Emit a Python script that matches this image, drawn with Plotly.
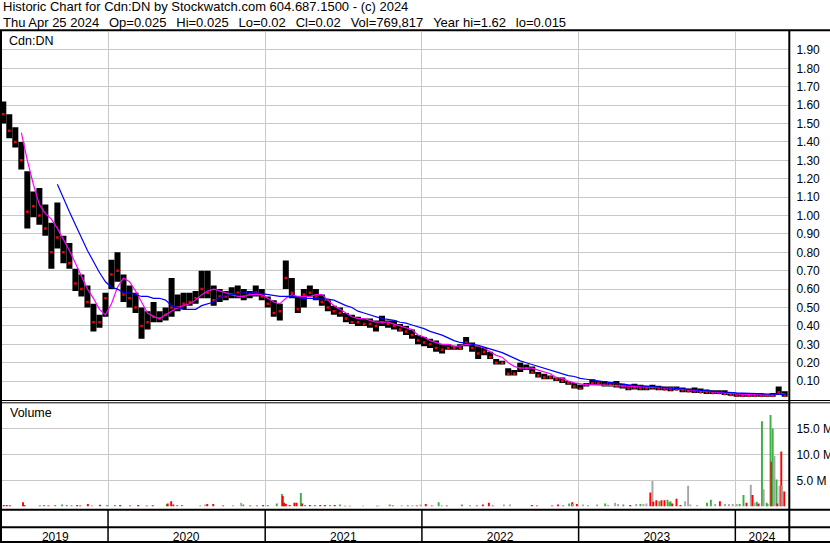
import plotly.graph_objects as go
import pandas as pd

# ---------------- data ----------------
price_dates = pd.date_range("2019-05-02", periods=131, freq="14D")

price_high = [
    1.62, 1.55, 1.48, 1.40, 1.24, 1.13, 1.15, 1.06, 0.96, 1.07,
    0.89, 0.85, 0.71, 0.68, 0.62, 0.52, 0.46, 0.58, 0.76, 0.80,
    0.68, 0.62, 0.58, 0.50, 0.48, 0.53, 0.48, 0.50, 0.66, 0.57,
    0.58, 0.58, 0.59, 0.70, 0.70, 0.62, 0.60, 0.59, 0.61, 0.62,
    0.60, 0.59, 0.62, 0.60, 0.56, 0.54, 0.52, 0.755, 0.66, 0.56,
    0.60, 0.62, 0.60, 0.57, 0.54, 0.51, 0.50, 0.47, 0.46, 0.45,
    0.44, 0.44, 0.43, 0.455, 0.43, 0.43, 0.41, 0.40, 0.38, 0.35,
    0.34, 0.33, 0.32, 0.30, 0.30, 0.29, 0.30, 0.34, 0.31, 0.29,
    0.28, 0.26, 0.22, 0.21, 0.17, 0.16, 0.20, 0.19, 0.18, 0.15,
    0.14, 0.13, 0.12, 0.12, 0.10, 0.09, 0.08, 0.09, 0.11, 0.10,
    0.10, 0.095, 0.10, 0.085, 0.08, 0.085, 0.08, 0.075, 0.08, 0.075,
    0.07, 0.07, 0.07, 0.065, 0.06, 0.065, 0.06, 0.055, 0.05, 0.05,
    0.05, 0.04, 0.035, 0.035, 0.035, 0.03, 0.035, 0.03, 0.035, 0.07,
    0.045,
]
price_low = [
    1.50, 1.42, 1.37, 1.25, 0.93, 0.99, 0.95, 0.89, 0.71, 0.82,
    0.74, 0.71, 0.59, 0.56, 0.50, 0.37, 0.39, 0.45, 0.60, 0.64,
    0.53, 0.50, 0.47, 0.33, 0.38, 0.42, 0.42, 0.43, 0.45, 0.48,
    0.49, 0.51, 0.52, 0.55, 0.55, 0.51, 0.53, 0.54, 0.55, 0.55,
    0.54, 0.55, 0.56, 0.54, 0.50, 0.45, 0.43, 0.60, 0.55, 0.47,
    0.50, 0.56, 0.54, 0.51, 0.48, 0.46, 0.45, 0.42, 0.41, 0.40,
    0.40, 0.39, 0.37, 0.40, 0.39, 0.38, 0.37, 0.35, 0.33, 0.30,
    0.29, 0.28, 0.26, 0.25, 0.27, 0.27, 0.27, 0.29, 0.26, 0.22,
    0.24, 0.22, 0.19, 0.19, 0.13, 0.13, 0.15, 0.16, 0.14, 0.12,
    0.11, 0.11, 0.10, 0.09, 0.08, 0.06, 0.055, 0.07, 0.08, 0.08,
    0.07, 0.07, 0.065, 0.06, 0.05, 0.055, 0.05, 0.05, 0.055, 0.05,
    0.05, 0.045, 0.05, 0.04, 0.04, 0.035, 0.035, 0.03, 0.03, 0.03,
    0.025, 0.02, 0.015, 0.015, 0.015, 0.015, 0.015, 0.015, 0.015, 0.03,
    0.015,
]
price_close = [
    1.55, 1.46, 1.40, 1.30, 1.02, 1.05, 1.00, 0.93, 0.80, 0.88,
    0.80, 0.74, 0.63, 0.60, 0.53, 0.42, 0.42, 0.55, 0.68, 0.70,
    0.57, 0.55, 0.50, 0.40, 0.42, 0.45, 0.44, 0.46, 0.50, 0.50,
    0.52, 0.53, 0.55, 0.60, 0.58, 0.54, 0.56, 0.56, 0.57, 0.58,
    0.56, 0.57, 0.58, 0.56, 0.52, 0.47, 0.48, 0.66, 0.58, 0.49,
    0.57, 0.58, 0.56, 0.53, 0.50, 0.48, 0.47, 0.44, 0.42, 0.42,
    0.41, 0.41, 0.40, 0.42, 0.41, 0.40, 0.38, 0.37, 0.35, 0.32,
    0.31, 0.30, 0.28, 0.27, 0.28, 0.28, 0.28, 0.31, 0.28, 0.25,
    0.26, 0.23, 0.20, 0.20, 0.14, 0.14, 0.17, 0.17, 0.15, 0.13,
    0.12, 0.12, 0.11, 0.10, 0.09, 0.07, 0.06, 0.08, 0.09, 0.09,
    0.08, 0.08, 0.075, 0.07, 0.06, 0.065, 0.06, 0.06, 0.065, 0.06,
    0.055, 0.055, 0.055, 0.05, 0.045, 0.045, 0.04, 0.04, 0.035, 0.035,
    0.03, 0.025, 0.02, 0.02, 0.02, 0.02, 0.02, 0.02, 0.02, 0.04,
    0.02,
]
ma50 = [None] * 3 + [
    1.45, 1.30, 1.17, 1.06, 1.01, 0.98, 0.93, 0.87, 0.81, 0.74,
    0.67, 0.60, 0.55, 0.49, 0.46, 0.52, 0.61, 0.66, 0.64, 0.59,
    0.53, 0.47, 0.45, 0.44, 0.46, 0.48, 0.50, 0.51, 0.52, 0.54,
    0.57, 0.59, 0.60, 0.59, 0.58, 0.57, 0.56, 0.56, 0.57, 0.57,
    0.57, 0.55, 0.53, 0.52, 0.55, 0.57, 0.56, 0.56, 0.56, 0.57,
    0.57, 0.54, 0.51, 0.49, 0.47, 0.45, 0.44, 0.44, 0.43, 0.42,
    0.42, 0.42, 0.41, 0.40, 0.39, 0.38, 0.35, 0.34, 0.32, 0.31,
    0.30, 0.30, 0.29, 0.29, 0.30, 0.30, 0.29, 0.28, 0.26, 0.24,
    0.23, 0.20, 0.18, 0.17, 0.17, 0.17, 0.16, 0.15, 0.14, 0.12,
    0.115, 0.10, 0.09, 0.085, 0.08, 0.08, 0.08, 0.08, 0.077, 0.075,
    0.073, 0.07, 0.068, 0.066, 0.065, 0.064, 0.064, 0.063, 0.062, 0.06,
    0.055, 0.052, 0.05, 0.047, 0.045, 0.042, 0.04, 0.037, 0.033, 0.03,
    0.028, 0.027, 0.026, 0.025, 0.024, 0.024, 0.029, 0.031,
]
ma200 = [None] * 9 + [
    1.17, 1.09, 1.02, 0.95, 0.88, 0.81, 0.75, 0.69, 0.64, 0.61,
    0.60, 0.58, 0.58, 0.57, 0.56, 0.56, 0.55, 0.55, 0.54, 0.51,
    0.50, 0.49, 0.49, 0.49, 0.51, 0.52, 0.53, 0.555, 0.565, 0.57,
    0.575, 0.58, 0.58, 0.58, 0.575, 0.57, 0.565, 0.56, 0.56, 0.56,
    0.555, 0.55, 0.55, 0.55, 0.545, 0.545, 0.54, 0.525, 0.51, 0.50,
    0.48, 0.47, 0.46, 0.45, 0.44, 0.435, 0.43, 0.42, 0.415, 0.405,
    0.395, 0.385, 0.37, 0.36, 0.35, 0.335, 0.32, 0.31, 0.305, 0.30,
    0.295, 0.285, 0.275, 0.265, 0.255, 0.24, 0.225, 0.21, 0.20, 0.19,
    0.18, 0.17, 0.16, 0.15, 0.14, 0.13, 0.125, 0.115, 0.11, 0.105,
    0.10, 0.095, 0.09, 0.087, 0.084, 0.08, 0.078, 0.075, 0.072, 0.07,
    0.067, 0.065, 0.062, 0.06, 0.058, 0.055, 0.054, 0.05, 0.047, 0.044,
    0.041, 0.039, 0.038, 0.036, 0.035, 0.034, 0.033, 0.033, 0.033, 0.033,
    0.031, 0.027,
]

vol_dates = [
    "2019-05-03", "2019-05-10", "2019-05-17", "2019-06-17", "2019-06-20", "2019-07-26",
    "2019-08-05", "2019-08-15", "2019-08-31", "2019-09-16", "2019-09-27", "2019-10-08",
    "2019-10-21", "2019-10-28", "2019-11-15", "2019-11-25", "2019-12-13", "2019-12-30",
    "2020-01-17", "2020-01-29", "2020-02-21", "2020-03-11", "2020-03-31", "2020-04-14",
    "2020-05-17", "2020-05-19", "2020-05-27", "2020-06-01", "2020-06-10", "2020-06-21",
    "2020-08-03", "2020-08-14", "2020-08-19", "2020-09-02", "2020-09-25", "2020-10-18",
    "2020-11-06", "2020-11-11", "2020-11-27", "2020-12-13", "2020-12-27", "2021-01-07",
    "2021-01-28", "2021-02-09", "2021-02-11", "2021-02-14", "2021-02-18", "2021-02-27",
    "2021-03-10", "2021-03-15", "2021-03-25", "2021-03-28", "2021-04-04", "2021-04-15",
    "2021-04-27", "2021-05-09", "2021-05-20", "2021-06-01", "2021-06-12", "2021-06-24",
    "2021-07-06", "2021-07-17", "2021-08-17", "2021-09-18", "2021-09-23", "2021-10-18",
    "2021-10-25", "2021-11-15", "2021-11-29", "2021-12-10", "2021-12-20", "2021-12-29",
    "2022-01-10", "2022-01-24", "2022-02-09", "2022-02-16", "2022-02-28", "2022-04-04",
    "2022-04-23", "2022-05-09", "2022-05-23", "2022-06-06", "2022-06-15", "2022-07-11",
    "2022-07-25", "2022-09-14", "2022-09-26", "2022-10-31", "2022-11-14", "2022-11-26",
    "2022-12-10", "2022-12-17", "2022-12-19", "2022-12-28", "2023-01-11", "2023-01-23",
    "2023-02-13", "2023-03-04", "2023-03-11", "2023-03-27", "2023-04-03", "2023-04-15",
    "2023-05-01", "2023-05-15", "2023-05-25", "2023-06-01", "2023-06-08", "2023-06-17",
    "2023-06-22", "2023-06-24", "2023-07-01", "2023-07-08", "2023-07-13", "2023-07-20",
    "2023-07-27", "2023-07-31", "2023-08-03", "2023-08-07", "2023-08-17", "2023-08-26",
    "2023-09-06", "2023-09-13", "2023-09-18", "2023-10-04", "2023-10-27", "2023-11-05",
    "2023-11-15", "2023-11-26", "2023-12-08", "2023-12-17", "2023-12-26", "2024-01-04",
    "2024-01-11", "2024-01-20", "2024-01-27", "2024-02-06", "2024-02-10", "2024-02-15",
    "2024-02-20", "2024-02-24", "2024-03-03", "2024-03-07", "2024-03-14", "2024-03-16",
    "2024-03-23", "2024-03-25", "2024-03-28", "2024-04-01", "2024-04-06", "2024-04-08",
    "2024-04-13", "2024-04-17", "2024-04-19", "2024-04-24",
]
vol_millions = [
    0.3, 0.3, 0.25, 0.8, 0.3, 0.2,
    0.3, 0.2, 0.3, 0.4, 0.3, 0.25,
    0.3, 0.2, 0.5, 0.2, 0.35, 0.3,
    0.3, 0.3, 0.2, 0.3, 0.2, 0.25,
    0.5, 0.6, 1.0, 0.4, 0.3, 0.3,
    0.2, 0.4, 0.5, 0.5, 0.2, 0.2,
    0.7, 0.4, 0.2, 0.2, 0.3, 0.3,
    0.6, 2.4, 2.0, 0.7, 0.5, 0.3,
    0.7, 0.7, 2.6, 0.6, 0.3, 0.3,
    0.3, 0.3, 0.3, 0.3, 0.3, 0.4,
    0.15, 0.15, 0.2, 0.15, 0.15, 0.4,
    0.2, 0.2, 0.2, 0.2, 0.2, 0.4,
    0.5, 0.2, 0.8, 0.2, 0.2, 0.4,
    0.3, 0.2, 0.4, 0.7, 0.2, 0.4,
    0.4, 0.3, 0.2, 0.2, 0.4, 0.2,
    0.6, 0.8, 0.5, 0.5, 0.4, 0.3,
    0.4, 0.6, 0.3, 0.7, 0.5, 0.4,
    0.3, 0.5, 0.5, 0.5, 0.6, 2.7,
    4.9, 0.9, 1.2, 1.0, 1.2, 1.2,
    1.3, 0.8, 1.0, 0.6, 1.5, 0.3,
    1.0, 4.0, 0.4, 0.3, 0.7, 1.3,
    0.5, 1.0, 0.5, 0.5, 0.5, 0.5,
    0.5, 2.2, 0.7, 4.2, 2.2, 0.7,
    0.9, 0.6, 16.4, 3.3, 0.7, 0.5,
    17.6, 8.6, 15.0, 9.7, 5.2, 0.6,
    4.0, 10.6, 4.0, 2.9,
]
vol_dir = [
    "d", "d", "d", "d", "d", "d",
    "u", "d", "u", "u", "u", "u",
    "d", "d", "d", "u", "d", "u",
    "u", "d", "d", "d", "d", "d",
    "u", "d", "d", "d", "u", "u",
    "u", "n", "d", "d", "d", "u",
    "n", "u", "d", "d", "d", "u",
    "u", "u", "d", "d", "d", "d",
    "d", "d", "u", "d", "u", "d",
    "u", "d", "d", "u", "d", "u",
    "d", "d", "n", "d", "n", "u",
    "d", "u", "d", "u", "d", "n",
    "d", "d", "u", "u", "d", "u",
    "n", "d", "d", "d", "d", "n",
    "n", "d", "d", "d", "d", "d",
    "u", "d", "n", "d", "n", "n",
    "n", "u", "n", "n", "n", "u",
    "d", "n", "u", "n", "n", "d",
    "n", "d", "d", "u", "d", "d",
    "u", "u", "u", "d", "d", "d",
    "n", "n", "n", "n", "u", "u",
    "n", "d", "n", "n", "n", "n",
    "u", "u", "d", "n", "d", "n",
    "u", "d", "u", "n", "u", "u",
    "u", "d", "u", "n", "u", "d",
    "n", "d", "n", "d",
]

year_bounds = ["2020-01-01", "2021-01-01", "2022-01-01", "2023-01-01", "2024-01-01"]
year_label_dates = ["2019-08-31", "2020-07-01", "2021-07-02", "2022-07-02", "2023-07-02", "2024-03-03"]
year_labels = ["2019", "2020", "2021", "2022", "2023", "2024"]
price_ticks = [0.10, 0.20, 0.30, 0.40, 0.50, 0.60, 0.70, 0.80, 0.90, 1.00,
               1.10, 1.20, 1.30, 1.40, 1.50, 1.60, 1.70, 1.80, 1.90]
vol_ticks = [5, 10, 15]
vol_tick_text = ["5.0 M", "10.0 M", "15.0 M"]

GAP = "\u00a0\u00a0\u2009"
header1 = "Historic Chart for Cdn:DN by Stockwatch.com 604.687.1500 - (c) 2024"
header2 = GAP.join(["Thu Apr 25 2024", "Op=0.025", "Hi=0.025", "Lo=0.02", "Cl=0.02",
                    "Vol=769,817", "Year hi=1.62", "lo=0.015"])

assert len(price_high) == len(price_low) == len(price_close) == len(ma50) == len(ma200) == 131
assert len(vol_dates) == len(vol_millions) == len(vol_dir)

# ---------------- geometry ----------------
W, H = 830, 543
def px(x):
    return x / W
def py(y):
    return 1 - y / H

DAY = 86400000
FONT = "Liberation Sans, Arial, sans-serif"
GRID = "#c8c8c8"
vol_colors = {"u": "#3cb043", "d": "#ff0000", "n": "#a6a6a6"}

fig = go.Figure()

fig.add_trace(go.Bar(
    x=price_dates, y=[h - l for h, l in zip(price_high, price_low)], base=price_low,
    width=14 * DAY, marker=dict(color="#000000", line=dict(width=0)),
    xaxis="x", yaxis="y", hoverinfo="skip"))
fig.add_trace(go.Scatter(
    x=price_dates, y=price_close, mode="markers",
    marker=dict(color="#ff0000", size=2.5, symbol="square", line=dict(width=0)),
    xaxis="x", yaxis="y", hoverinfo="skip"))
fig.add_trace(go.Scatter(
    x=price_dates, y=ma50, mode="lines", line=dict(color="#ff00ff", width=1.2),
    xaxis="x", yaxis="y", hoverinfo="skip"))
fig.add_trace(go.Scatter(
    x=price_dates, y=ma200, mode="lines", line=dict(color="#0000ff", width=1.2),
    xaxis="x", yaxis="y", hoverinfo="skip"))
fig.add_trace(go.Bar(
    x=pd.to_datetime(vol_dates), y=vol_millions,
    width=4.5 * DAY, marker=dict(color=[vol_colors[d] for d in vol_dir], line=dict(width=0)),
    xaxis="x2", yaxis="y2", hoverinfo="skip"))

x_range = ["2019-04-29", "2024-05-05"]
x_dom = [px(2), px(789)]

common_x = dict(
    range=x_range, domain=x_dom, type="date", automargin=False,
    showgrid=False, zeroline=False, showline=False,
    tickmode="array", tickvals=year_label_dates, ticktext=year_labels,
    minor=dict(tickmode="array", tickvals=year_bounds, showgrid=True,
               gridcolor=GRID, gridwidth=1, ticks=""),
)

fig.update_layout(
    template="none",
    width=W, height=H,
    margin=dict(l=0, r=0, t=0, b=0, pad=0, autoexpand=False),
    paper_bgcolor="white", plot_bgcolor="white",
    showlegend=False, barmode="overlay", hovermode=False,
    font=dict(family=FONT, size=12, color="#000000"),
    xaxis=dict(common_x, anchor="y", showticklabels=False, ticks=""),
    xaxis2=dict(common_x, anchor="y2", matches="x", showticklabels=True,
                ticks="outside", ticklen=19, tickcolor="rgba(0,0,0,0)",
                tickfont=dict(family=FONT, size=12, color="#000000")),
    yaxis=dict(domain=[py(399.5), py(31.5)], range=[0, 2.0], side="right", anchor="x",
               automargin=False,
               tickmode="array", tickvals=price_ticks, tickformat=".2f",
               showgrid=True, gridcolor=GRID, gridwidth=1, zeroline=False, showline=False,
               ticks="outside", ticklen=4, tickcolor="rgba(0,0,0,0)",
               tickfont=dict(family=FONT, size=12, color="#000000")),
    yaxis2=dict(domain=[py(506.5), py(403)], range=[0, (506.5 - 403) / 26 * 5], side="right",
                anchor="x2", automargin=False,
                tickmode="array", tickvals=vol_ticks, ticktext=vol_tick_text,
                showgrid=True, gridcolor=GRID, gridwidth=1, zeroline=False, showline=False,
                ticks="outside", ticklen=4, tickcolor="rgba(0,0,0,0)",
                tickfont=dict(family=FONT, size=12, color="#000000")),
)

# frame lines
shapes = []
def hline(y, w=2):
    shapes.append(dict(type="line", xref="paper", yref="paper", x0=0, x1=1,
                       y0=py(y), y1=py(y), line=dict(color="#000000", width=w), layer="above"))
def vline(x, y0, y1, w=2):
    shapes.append(dict(type="line", xref="paper", yref="paper", x0=px(x), x1=px(x),
                       y0=py(y0), y1=py(y1), line=dict(color="#000000", width=w), layer="above"))

hline(30.3, 2)
hline(400.5, 1)
hline(402.8, 1)
hline(509.7, 2)
hline(527.2, 2)
hline(542, 2)
vline(1, 30, 543, 2)
vline(789.3, 30, 543, 2)
for b in year_bounds:
    shapes.append(dict(type="line", xref="x", yref="paper", x0=b, x1=b,
                       y0=py(543), y1=py(509.7), line=dict(color="#000000", width=1.5),
                       layer="above"))
fig.update_layout(shapes=shapes)

ann = [
    dict(text=header1, x=px(1), y=py(6.5)),
    dict(text=header2, x=px(1), y=py(22)),
    dict(text="Cdn:DN", x=px(7), y=py(41.5)),
    dict(text="Volume", x=px(8), y=py(413)),
]
fig.update_layout(annotations=[
    dict(a, xref="paper", yref="paper", xanchor="left", yanchor="middle", showarrow=False,
         font=dict(family=FONT, size=13 if i < 2 else 12.5, color="#000000"))
    for i, a in enumerate(ann)
])

fig.write_html(
    "out.html",
    config={"displayModeBar": False, "staticPlot": True},
    post_script="document.body.style.margin='0';document.body.style.padding='0';"
                "document.body.style.overflow='hidden';",
)
